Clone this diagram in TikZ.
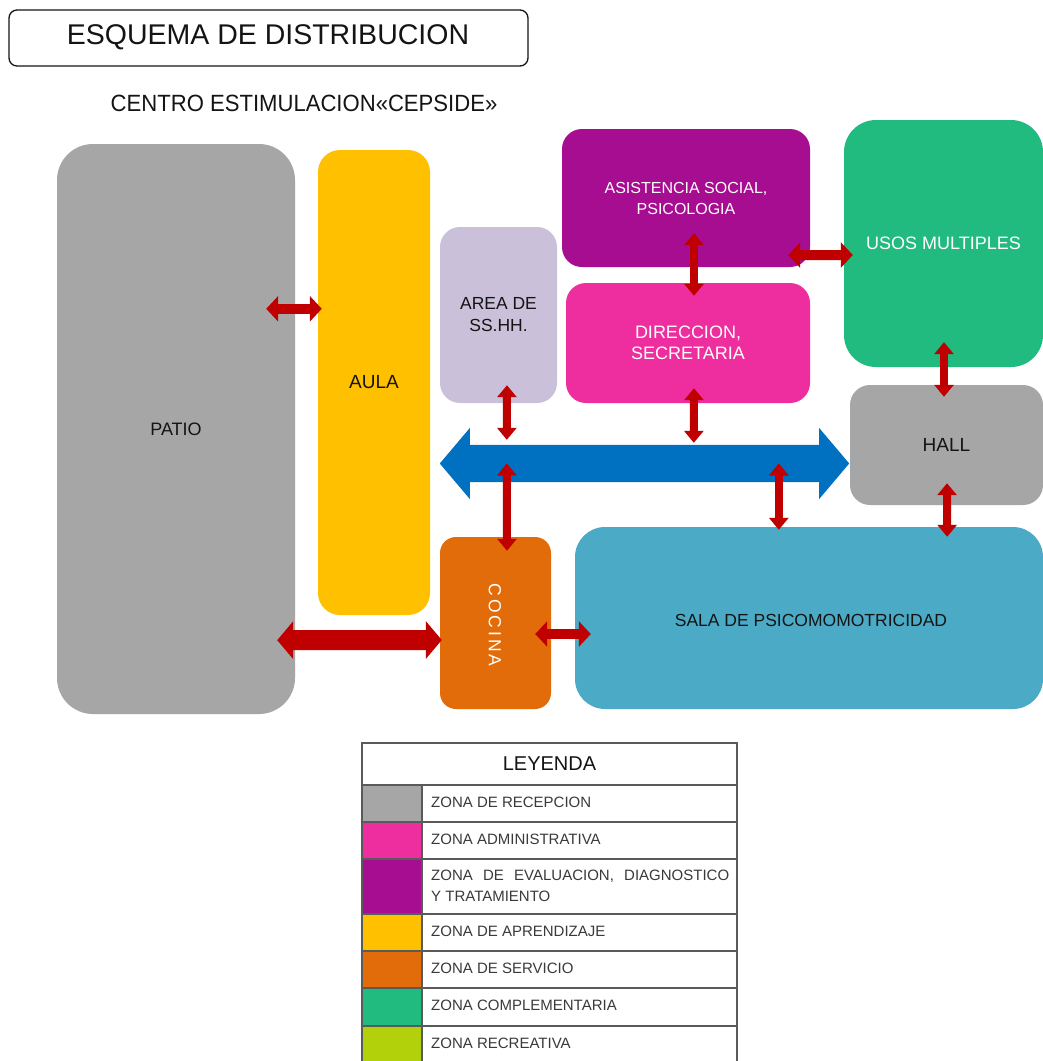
\documentclass[tikz,border=0pt]{standalone}
\usepackage{fontspec}
\usepackage{graphicx}
\setmainfont{Liberation Sans}
\usetikzlibrary{arrows.meta,calc}

\definecolor{recepcion}{HTML}{A6A6A6}
\definecolor{administrativa}{HTML}{EE2D9E}
\definecolor{evaluacion}{HTML}{A60D90}
\definecolor{aprendizaje}{HTML}{FFC000}
\definecolor{servicio}{HTML}{E36C0A}
\definecolor{complementaria}{HTML}{21BA7F}
\definecolor{recreativa}{HTML}{B3D10B}
\definecolor{sshhcol}{HTML}{CBC0DA}
\definecolor{salacol}{HTML}{4BABC6}
\definecolor{corridor}{HTML}{0070C0}
\definecolor{linkred}{HTML}{C00000}
\definecolor{ink}{HTML}{141414}
\definecolor{rule}{HTML}{5A5A5A}
\definecolor{legendtext}{HTML}{3A3A3A}

\newcommand{\fsz}[1]{\fontsize{#1pt}{1.2\dimexpr#1pt\relax}\selectfont}

\begin{document}
\begin{tikzpicture}[x=1pt,y=-1pt,
  zone/.style={inner sep=0pt, align=center},
  darklabel/.style={text=ink},
  lightlabel/.style={text=white},
  link/.style={draw=linkred, line width=8pt,
    arrows={Triangle[length=12pt,width=19pt]-Triangle[length=12pt,width=19pt]}},
  linkwide/.style={draw=linkred, line width=10pt,
    arrows={Triangle[length=12pt,width=25pt]-Triangle[length=12pt,width=25pt]}},
  linkbig/.style={draw=linkred, line width=20pt,
    arrows={Triangle[length=16pt,width=37pt]-Triangle[length=16pt,width=37pt]}},
  legendrow/.style={anchor=west, inner sep=0pt, text=legendtext, font=\fsz{15}},
]
\clip (0,0) rectangle (1043,1061);
\fill[white] (0,0) rectangle (1043,1061);

% titles
\draw[draw=ink, line width=1.3pt, rounded corners=8pt] (9,10) rectangle (528,66);
\node[inner sep=0pt, text=ink, font=\fsz{28.5}] (title) at (268,37) {ESQUEMA DE DISTRIBUCION};
\node[inner sep=0pt, text=ink, font=\fsz{23.5}] (subtitle) at (304,103)
  {\scalebox{0.94}[1]{CENTRO ESTIMULACION«CEPSIDE»}};

% zones
\node[zone, fill=recepcion, rounded corners=36pt, minimum width=238pt, minimum height=570pt,
  darklabel, font=\fsz{18}] (patio) at (176,429) {PATIO};
\node[zone, fill=aprendizaje, rounded corners=22pt, minimum width=112pt, minimum height=465pt,
  darklabel, font=\fsz{19}] (aula) at (374,382.5) {AULA};
\node[zone, fill=sshhcol, rounded corners=20pt, minimum width=117pt, minimum height=176pt,
  darklabel, font=\fontsize{17.5pt}{22pt}\selectfont] (sshh) at (498.5,315) {AREA DE\\SS.HH.};
\node[zone, fill=evaluacion, rounded corners=20pt, minimum width=248pt, minimum height=138pt,
  lightlabel, font=\fontsize{16pt}{21pt}\selectfont] (asist) at (686,198) {ASISTENCIA SOCIAL,\\PSICOLOGIA};
\node[zone, fill=administrativa, rounded corners=20pt, minimum width=244pt, minimum height=120pt,
  lightlabel, font=\fontsize{18pt}{21pt}\selectfont] (direc) at (688,343) {DIRECCION,\\SECRETARIA};
\node[zone, fill=complementaria, rounded corners=32pt, minimum width=199pt, minimum height=247pt,
  lightlabel, font=\fsz{18}] (usos) at (943.5,243.5) {USOS MULTIPLES};
\node[zone, fill=recepcion, rounded corners=20pt, minimum width=193pt, minimum height=120pt,
  darklabel, font=\fsz{19}] (hall) at (946.5,445) {HALL};
\node[zone, fill=salacol, rounded corners=30pt, minimum width=468pt, minimum height=182pt] (sala) at (809,618) {};
\node[inner sep=0pt, text=ink, font=\fsz{17.5}] (salalabel) at (811,620) {SALA DE PSICOMOMOTRICIDAD};
\node[zone, fill=servicio, rounded corners=16pt, minimum width=111pt, minimum height=172pt] (cocina) at (495.5,623) {};
\node[inner sep=0pt, text=white, font=\fsz{17.5}, rotate=-90] (cocinalabel) at (495,625)
  {C\kern3pt O\kern3pt C\kern3pt I\kern3pt N\kern3pt A};

% main corridor (double-headed band)
\node[inner sep=0pt, minimum width=409pt, minimum height=37pt] (corr) at (644.5,463.5) {};
\fill[corridor] (corr.west) -- ($(corr.west)+(30,-35.5)$) -- ($(corr.north west)+(30,0)$)
  -- ($(corr.north east)+(-30,0)$) -- ($(corr.east)+(-30,-35.5)$) -- (corr.east)
  -- ($(corr.east)+(-30,35.5)$) -- ($(corr.south east)+(-30,0)$)
  -- ($(corr.south west)+(30,0)$) -- ($(corr.west)+(30,35.5)$) -- cycle;

% circulation links
\draw[linkwide] ($(patio.north east)+(-29,165)$) -- ($(aula.north west)+(4,159)$);
\draw[linkbig] ($(patio.south east)+(-18,-74)$) -- ($(cocina.west)+(2,17)$);
\draw[link] ($(sshh.south)+(8.5,-18)$) -- ($(corr.north west)+(67,-5)$);
\draw[link] ($(direc.south)+(6,-15)$) -- ($(corr.north west)+(254,-2)$);
\draw[link] ($(corr.west)+(67,0)$) -- ($(cocina.north)+(11.5,14)$);
\draw[link] ($(corr.west)+(339,0)$) -- ($(sala.north west)+(204,3)$);
\draw[link] ($(asist.south)+(8,-34)$) -- ($(direc.north)+(6,13)$);
\draw[linkwide] ($(asist.south east)+(-22,-12)$) -- ($(usos.west)+(9,11.5)$);
\draw[link] ($(usos.south)+(0.5,-25)$) -- ($(hall.north)+(-2.5,12)$);
\draw[link] ($(hall.south)+(0.5,-22)$) -- ($(sala.north east)+(-96,10)$);
\draw[linkwide] ($(cocina.east)+(-16,11)$) -- ($(sala.west)+(16,16)$);

% legend
\fill[recepcion]      (362,785) rectangle (422,822);
\fill[administrativa] (362,822) rectangle (422,859);
\fill[evaluacion]     (362,859) rectangle (422,914);
\fill[aprendizaje]    (362,914) rectangle (422,951);
\fill[servicio]       (362,951) rectangle (422,988);
\fill[complementaria] (362,988) rectangle (422,1026);
\fill[recreativa]     (362,1026) rectangle (422,1064);
\draw[rule, line width=1.5pt] (362,1064) -- (362,743) -- (737,743) -- (737,1064);
\foreach \yy in {785,822,859,914,951,988,1026} \draw[rule, line width=1.5pt] (362,\yy) -- (737,\yy);
\draw[rule, line width=1.5pt] (422,785) -- (422,1064);

\node[inner sep=0pt, text=ink, font=\fsz{20}] (leyenda) at (549.5,764) {LEYENDA};
\node[legendrow] (l1) at (431,802) {ZONA DE RECEPCION};
\node[legendrow] (l2) at (431,839) {ZONA ADMINISTRATIVA};
\node[legendrow, align=left, font=\fontsize{15pt}{21pt}\selectfont] (l3) at (431,886)
  {\makebox[298pt][l]{ZONA\hfill DE\hfill EVALUACION,\hfill DIAGNOSTICO}\\Y TRATAMIENTO};
\node[legendrow] (l4) at (431,931) {ZONA DE APRENDIZAJE};
\node[legendrow] (l5) at (431,968) {ZONA DE SERVICIO};
\node[legendrow] (l6) at (431,1005) {ZONA COMPLEMENTARIA};
\node[legendrow] (l7) at (431,1043) {ZONA RECREATIVA};
\end{tikzpicture}
\end{document}
